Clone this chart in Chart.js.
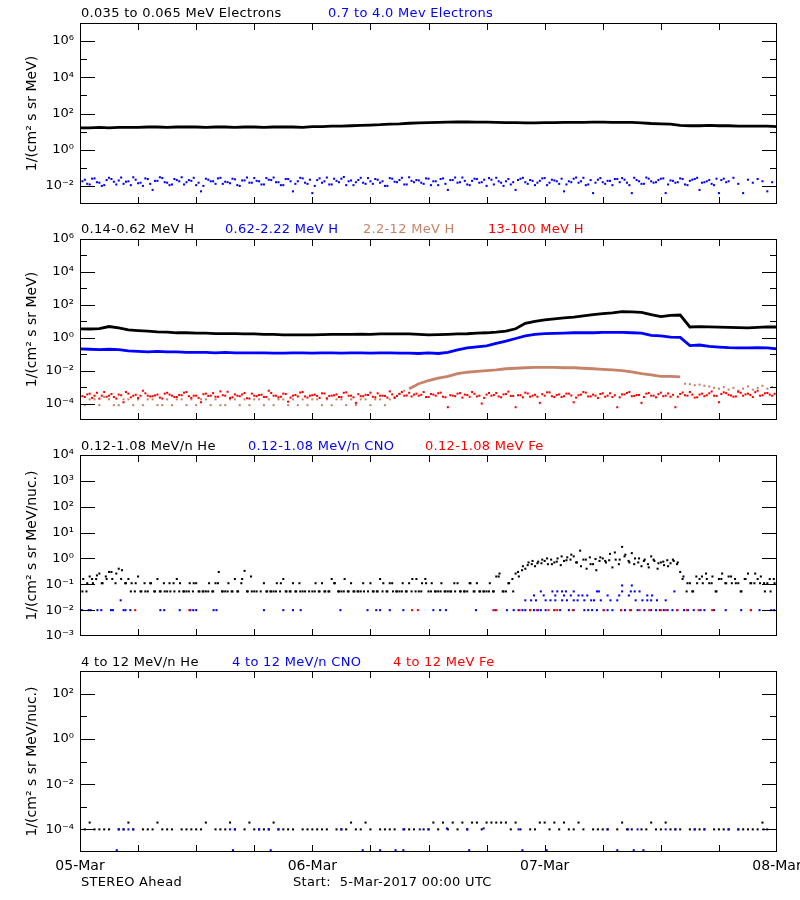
<!DOCTYPE html>
<html><head><meta charset="utf-8">
<script src="https://cdn.jsdelivr.net/npm/chart.js@4.4.1/dist/chart.umd.min.js"></script>
<style>
html,body{margin:0;padding:0;background:#fff;width:800px;height:900px;overflow:hidden;position:relative;font-family:"DejaVu Sans",sans-serif;}
.t{position:absolute;font-size:13px;line-height:13px;white-space:pre;letter-spacing:0.3px;}
canvas{position:absolute;left:0;}
</style></head><body>
<script>
// ---------- axis / label data ----------
const days = ['05-Mar','06-Mar','07-Mar','08-Mar'];
const dayHours = [0,24,48,72];
const xTickHours = [6,12,18,24,30,36,42,48,54,60,66];
const p1Labels = [-2,0,2,4,6];
const p2Labels = [-4,-2,0,2,4,6];
const p3Labels = [-3,-2,-1,0,1,2,3,4];
const p4Labels = [-4,-2,0,2];
const names1 = ['0.035 to 0.065 MeV Electrons','0.7 to 4.0 Mev Electrons'];
const names2 = ['0.14-0.62 MeV H','0.62-2.22 MeV H','2.2-12 MeV H','13-100 MeV H'];
const names3 = ['0.12-1.08 MeV/n He','0.12-1.08 MeV/n CNO','0.12-1.08 MeV Fe'];
const names4 = ['4 to 12 MeV/n He','4 to 12 MeV/n CNO','4 to 12 MeV Fe'];
const footer = ['STEREO Ahead','Start:  5-Mar-2017 00:00 UTC'];

// ---------- panel 1: electrons ----------
// hourly, h0..h72
const eLow = [16,16,17,16,17,17,17,18,18,17, 18,18,18,17,18,18,17,18,18,17,
 18,18,18,17,19,19,20,20,21,22, 23,24,26,27,29,30,31,32,33,34,
 34,33,33,32,31,31,30,30,31,31, 32,32,32,33,33,32,32,32,30,28,
 27,26,22,21,21,22,21,21,20,20, 20,20,19];
// every 30 min on the hour/half hour, h0..h72
const eHi = [.016,.022,.012,.026,.015,.011,.028,.017,.02,.013, .018,.03,.014,.01,.024,.006,.019,.027,.015,.012,
 .021,.03,.016,.019,.011,.005,.025,.018,.013,.028, .017,.014,.023,.01,.02,.015,.027,.018,.012,.022,
 .029,.016,.011,.024,.005,.018,.026,.013,.004,.021, .015,.029,.012,.019,.025,.011,.02,.016,.028,.013,
 .018,.024,.015,.01,.027,.017,.021,.012,.03,.016, .02,.013,.025,.018,.011,.026,.006,.021,.015,.029,
 .012,.019,.024,.016,.01,.022,.028,.015,.018,.012, .006,.025,.016,.021,.011,.019,.027,.015,.02,.013,
 .005,.018,.025,.015,.028,.012,.004,.022,.016,.019, .011,.024,.027,.015,.004,.021,.013,.029,.018,.016,
 .025,.004,.02,.015,.026,.012,.019,.024,.006,.016, .021,.011,.004,.025,.018,.028,.013,.004,.022,.015,
 .024,.018,.005,.016,.021];
// in-between samples, h0.25..h71.75
const eHi2 = [.018,.013,.025,.016,.01,.021,.024,.012,.029,.017, .011,.022,.015,.026,.013,.019,.03,.016,.011,.024,
 .018,.012,.021,.028,.015,.01,.022,.018,.026,.013, .016,.025,.011,.02,.029,.015,.019,.012,.027,.021,
 .016,.011,.024,.018,.013,.028,.015,.022,.01,.026, .018,.012,.025,.016,.031,.018,.011,.021,.015,.027,
 .013,.022,.018,.01,.025,.016,.028,.012,.019,.021, .015,.026,.011,.018,.024,.013,.021,.029,.016,.019,
 .011,.025,.015,.022,.027,.012,.018,.01,.024,.016, .021,.028,.013,.019,.015,.026,.011,.022,.018,.025,
 .012,.016,.029,.018,.011,.021,.015,.027,.013,.019, .024,.016,.022,.011,.028,.018,.013,.025,.015,.021,
 .026,.012,.019,.016,.024,.011,.022,.028,.015,.018, .013,.025,.021,.016];

// ---------- panel 2: protons ----------
const hA = [3.5,3.4,3.6,4.8,4.0,3.0,2.7,2.5,2.3,2.2, 2.0,2.0,1.9,1.9,1.8,1.8,1.8,1.7,1.7,1.6,
 1.6,1.5,1.5,1.5,1.5,1.55,1.6,1.6,1.6,1.65, 1.6,1.7,1.7,1.7,1.7,1.6,
 1.5,1.55,1.6,1.7,1.75,1.9,2.0,2.2,2.5,3.5, 7.5,10,12,14,16,18,21,25,29,32,
 38,37,35,25,19,23,24,4.5,4.7,4.6, 4.4,4.2,4.1,4.0,4.3,4.6,4.5];
const hB = [0.21,0.2,0.19,0.2,0.19,0.16,0.15,0.14,0.15,0.14, 0.14,0.13,0.13,0.13,0.12,0.13,0.12,0.12,0.12,0.12,
 0.115,0.115,0.12,0.12,0.115,0.12,0.12,0.115,0.12,0.12, 0.115,0.12,0.12,0.115,0.115,0.11,
 0.12,0.11,0.13,0.18,0.24,0.28,0.32,0.45,0.62,0.9, 1.3,1.6,1.8,1.85,1.9,2.0,2.0,2.0,2.1,2.1,
 2.1,2.0,1.9,1.4,1.3,1.1,1.05,0.33,0.36,0.3, 0.27,0.25,0.24,0.24,0.25,0.24,0.21];
// 2.2-12 MeV H: quiet (30 min, h0..33.5), event (hourly, h34..62), decay (30 min, h62.5..72)
const hCquiet = [1.8e-4,8e-5,1.8e-4,1.8e-4,8e-5,2.5e-4,1.8e-4,8e-5,8e-5,1.8e-4,
 1.8e-4,8e-5,1.8e-4,8e-5,1.8e-4,1.8e-4,8e-5,8e-5,1.8e-4,8e-5,
 1.8e-4,1.8e-4,8e-5,1.8e-4,8e-5,1.8e-4,1.8e-4,8e-5,1.8e-4,8e-5,
 8e-5,1.8e-4,1.8e-4,8e-5,1.8e-4,8e-5,1.8e-4,1.8e-4,8e-5,1.8e-4,
 8e-5,1.8e-4,1.8e-4,8e-5,1.8e-4,8e-5,1.8e-4,8e-5,1.8e-4,1.8e-4,
 8e-5,1.8e-4,8e-5,1.8e-4,1.8e-4,8e-5,1.8e-4,8e-5,1.8e-4,1.8e-4,
 8e-5,1.8e-4,1.8e-4,8e-5,1.8e-4,2.5e-4,4e-4,6e-4];
const hCevent = [8e-4,1.6e-3,2.5e-3,3.5e-3,4.5e-3,6.5e-3,8e-3,9e-3,.01,.011,
 .013,.014,.015,.016,.016,.016,.015,.015,.014,.013, .012,.011,.01,.0085,.0065,.0055,.0045,.0045,.0042];
const hCdecay = [1.6e-3,1.5e-3,1.3e-3,1.4e-3,1.2e-3,1.1e-3,9e-4,8e-4,1e-3,7e-4,
 9e-4,6e-4,8e-4,1.1e-3,7e-4,9e-4,1.2e-3,8e-4,1e-3,9e-4];
// 13-100 MeV H, 30 min (h0..72) and in-between samples (h0.25..71.75)
const hD = [3e-4,2.5e-4,4e-4,3e-4,2e-4,5e-4,3e-4,2.5e-4,3.5e-4,1.2e-4,
 4e-4,3e-4,2.2e-4,6e-4,3e-4,2.8e-4,3.5e-4,2e-4,4.5e-4,3e-4,
 2.5e-4,3.2e-4,5e-4,2.2e-4,3e-4,1.2e-4,4e-4,3e-4,2.6e-4,5.5e-4,
 3e-4,2.2e-4,3.6e-4,2.8e-4,4.4e-4,2e-4,3e-4,3.3e-4,2.5e-4,6e-4,
 3e-4,2.4e-4,4e-4,1.3e-4,3e-4,2.7e-4,5e-4,2.3e-4,3.2e-4,2.9e-4,
 4.2e-4,2.1e-4,3e-4,3.6e-4,2.5e-4,4.8e-4,3e-4,1.1e-4,2.8e-4,3.4e-4,
 4.6e-4,2.4e-4,3e-4,2.9e-4,5.5e-4,2.2e-4,3.8e-4,3e-4,4.5e-4,3.5e-4,
 3e-4,5e-4,2.5e-4,3.5e-4,4.2e-4,2.6e-4,6e-5,3e-4,4e-4,2.3e-4,
 3.3e-4,5e-4,2.7e-4,1e-4,3.5e-4,3e-4,4.4e-4,2.4e-4,3.8e-4,2.9e-4,
 6e-5,3.2e-4,4.6e-4,2.6e-4,3.4e-4,1.1e-4,3e-4,4.8e-4,2.5e-4,3.6e-4,
 2.8e-4,4e-4,1.2e-4,3.2e-4,5e-4,2.7e-4,3.5e-4,2.2e-4,4.2e-4,3e-4,
 2.5e-4,6e-5,3.6e-4,4.4e-4,2.8e-4,3.3e-4,1.1e-4,4e-4,3e-4,2.4e-4,
 4.6e-4,3e-4,2.6e-4,6e-5,3.8e-4,3.2e-4,5e-4,2.3e-4,3.5e-4,2.8e-4,
 4.2e-4,3e-4,1.2e-4,4.8e-4,3.4e-4,2.6e-4,5.2e-4,3e-4,4e-4,2.5e-4,
 6e-4,3.2e-4,4.4e-4,3e-4,5e-4];
const hD2 = [2.8e-4,3.6e-4,2.2e-4,4.5e-4,3e-4,2.6e-4,3.8e-4,2e-4,3.2e-4,5e-4,
 2.4e-4,3.4e-4,3e-4,4.2e-4,2.7e-4,3.1e-4,2.3e-4,4e-4,3.5e-4,2.5e-4,
 3.3e-4,4.6e-4,2.8e-4,3e-4,2.2e-4,3.7e-4,2.9e-4,4.3e-4,2.6e-4,3.2e-4,
 5.2e-4,2.4e-4,3e-4,3.6e-4,2.1e-4,4e-4,2.8e-4,3.4e-4,2.5e-4,4.4e-4,
 3e-4,2.6e-4,3.8e-4,2.3e-4,3.3e-4,4.7e-4,2.7e-4,3e-4,3.5e-4,2.2e-4,
 4.1e-4,2.9e-4,3.2e-4,2.5e-4,4.5e-4,3e-4,2.4e-4,3.7e-4,2.8e-4,3.3e-4,
 2.6e-4,4.2e-4,3e-4,2.3e-4,3.6e-4,2.9e-4,5e-4,3.1e-4,2.7e-4,4e-4,
 3.4e-4,2.5e-4,3.8e-4,3e-4,4.6e-4,2.4e-4,3.2e-4,2.8e-4,4.3e-4,3.5e-4,
 2.6e-4,3.9e-4,3e-4,2.2e-4,4.4e-4,3.3e-4,2.7e-4,3.6e-4,5.3e-4,2.9e-4,
 3.2e-4,2.4e-4,4.1e-4,3e-4,2.6e-4,3.7e-4,4.8e-4,2.8e-4,3.3e-4,2.5e-4,
 4e-4,3.1e-4,2.3e-4,3.5e-4,4.6e-4,2.7e-4,3e-4,3.8e-4,2.6e-4,4.2e-4,
 3.2e-4,2.4e-4,3.6e-4,5e-4,2.9e-4,3.3e-4,2.5e-4,4.4e-4,3e-4,3.7e-4,
 2.8e-4,4.1e-4,3.4e-4,2.6e-4,4.7e-4,3e-4,3.5e-4,2.4e-4,4e-4,3.2e-4,
 5.4e-4,2.9e-4,3.8e-4,4.3e-4,3.1e-4,2.7e-4,4.5e-4,3.6e-4,3.3e-4,4.9e-4,
 3e-4,4.2e-4,3.5e-4,3.9e-4];

// ---------- panel 3: 0.12-1.08 MeV/n ions ----------
// He every 20 min (3 per hour), h0..h72
const he3 = [.11,.16,.053, .2,.11,.16, .26,.11,.2, .3,.16,.11, .4,.35,.11, .16,.11,.053, .2,.053,.11, .053,.11,.053,
 .16,.053,.11, .053,.053,.11, .16,.11,.053, .053,.11,.053, .11,.053,.053, .053,.11,.053, .11,.3,.053, .053,.11,.053,
 .16,.053,.11, .33,.053,.2, .053,null,.053, .11,.053,.053, .053,.11,.053, .16,.053,.053, .11,.053,.11, .053,null,.053,
 .053,.11,.053, .11,.053,.053, .16,.11,.053, .053,.16,.053, .11,.053,.053, .053,.053,null, .11,.053,.053, .16,.11,.053,
 .11,.053,.053, .053,.11,.053, .11,.16,.053, .053,.11,.16, .053,.11,.053, .053,.11,.053, .053,.053,.11, .11,.053,.053,
 .053,.11,.053, .11,.053,.053, .053,.11,.053, .2,.26,.053, .053,.11,.16, .26,.2,.35, .4,.7,.6, .5,.75,.65,
 .8,.6,.9, .7,1.0,.55, .8,1.1,.9, 1.2,.7,2.0, .9,.4,1.1, .6,.35,.8, 1.0,.7,.85, .45,.9,.6,
 2.8,1.4,.8, 1.6,1.0,.7, .5,.9,.6, 1.2,.8,.4, .7,.55,.85, .65,.8,.6, .3,.2,.053, .11,.053,.2,
 .16,.11,.26, .11,.2,.053, .16,.26,.11, .2,.11,.16, .11,.053,.16, .26,.11,.11, .16,.2,.11, .11,.053,.16,
 .11];
// He in-between samples, h0.25..h71.75 every 30 min
const he3b = [.053,.11,.16,.22,.11,.16,.3,.26,.16,.11,.053,.11,
 .053,.053,.11,.053,.053,.053,.11,.053,.053,.053,.053,.11,.053,.053,.053,.053,.11,.053,
 .053,.053,.053,.16,.053,.053,.053,null,.053,.053,.053,.11,.053,.053,.053,.053,.053,null,.053,.053,
 .053,.053,.11,.053,.053,.053,.053,.053,.11,.053,.053,.053,.053,.053,.11,.053,.053,.053,.053,.16,
 .053,.11,.053,.053,.053,.053,.053,.053,.053,.053,.11,.053,.053,.053,.053,.053,.2,.053,.11,.053,
 .3,.5,.55,.8,.65,.9,1.0,.6,.75,1.2, .85,1.4,.7,.5,.9,.6,.95,1.1,.8,1.5, 1.7,.9,1.2,.7,.6,1.0,.8,.45,.9,.65, .75,.5,.9,.7,
 .16,.11,.053,.11,.2,.16,.11,.053,.16,.11, .2,.11,.053,.16,.11,.26,.11,.053,.16,.11];
// CNO [hour, value]
const cno3 = [[0.2,.01],[0.9,.01],[1.1,.01],[1.8,.01],[2.2,.01],[3.2,.01],[3.4,.01],[4.2,.024],[4.5,.01],[4.7,.01],[5.2,.01],
 [8.3,.01],[8.7,.01],[10.3,.01],[11.4,.01],[11.7,.01],[12,.01],[13.8,.01],[14.1,.01],[19,.01],[21,.01],[22,.01],[22.8,.01],
 [26.9,.01],[29.7,.01],[30.6,.01],[31,.01],[32,.01],[33.4,.01],[36.5,.01],[37.2,.01],[37.8,.01],[40.9,.01],[42.9,.01],
 [44.1,.01],[44.8,.01],[45.3,.01],[45.7,.01],[46,.01],[46.5,.01],[46.9,.01],[47.3,.01],[47.6,.01],[48.1,.01],[49,.01],
 [49.6,.01],[50.5,.01],[51,.01],[52.1,.01],[52.5,.01],[52.9,.01],[53.4,.01],[54.1,.01],[54.5,.01],[55,.01],[55.9,.01],
 [56.3,.01],[56.9,.01],[57.6,.01],[58.3,.01],[59,.01],[59.5,.01],[59.9,.01],[60.3,.01],[60.7,.01],[61.2,.01],[61.7,.01],
 [62.4,.01],[62.8,.01],[63.4,.01],[64.1,.01],[64.5,.01],[65.5,.01],[66.7,.01],[68.3,.01],[69.3,.01],[70.2,.01],[71.4,.01],[71.7,.01],
 [46,.024],[46.6,.024],[47.1,.024],[48.1,.024],[48.6,.024],[49.1,.024],[49.8,.024],[50.3,.024],[51,.024],[51.4,.024],
 [52.1,.024],[52.8,.024],[53.1,.024],[53.8,.024],[54.8,.024],[55.5,.024],[57.4,.024],[58.1,.024],[58.6,.024],[59,.024],[59.6,.024],[60.5,.024],
 [46.9,.037],[47.9,.037],[49.1,.037],[50,.037],[50.7,.037],[51.5,.037],[51.9,.037],[52.4,.037],[54.5,.037],[55.7,.037],[56.7,.037],[58.6,.037],[59.1,.037],
 [47.6,.053],[48.8,.053],[49.3,.053],[49.8,.053],[50.2,.053],[51,.053],[53.4,.053],[53.6,.053],[56,.053],[56.9,.053],[57.3,.053],[57.8,.053],[61.4,.053],
 [56,.09],[57,.09]];
// Fe [hour, value]
const fe3 = [[5.7,.01],[11.3,.01],[34.3,.01],[34.9,.01],[42.7,.01],[43,.01],[45.4,.01],[46.5,.01],[47.2,.01],[48.4,.01],
 [49,.01],[49.3,.01],[50.9,.01],[54.1,.01],[55.9,.01],[56.8,.01],[57.8,.01],[58.8,.01],[60,.01],[60.5,.01],[61.7,.01],
 [62.7,.01],[63.9,.01],[65.3,.01],[69.3,.01]];

// ---------- panel 4: 4-12 MeV/n ions ----------
// He every 30 min
const he4 = [null,1e-4,2e-4,1e-4,1e-4,1e-4,1e-4,null,1e-4,1e-4,
 2e-4,1e-4,null,1e-4,1e-4,1e-4,2e-4,1e-4,1e-4,1e-4,
 null,1e-4,1e-4,1e-4,1e-4,1e-4,2e-4,null,1e-4,1e-4,
 1e-4,2e-4,1e-4,null,1e-4,2e-4,1e-4,1e-4,1e-4,1e-4,
 2e-4,1e-4,1e-4,1e-4,1e-4,null,1e-4,1e-4,1e-4,1e-4,
 1e-4,1e-4,null,1e-4,1e-4,1e-4,2e-4,1e-4,1e-4,2e-4,
 1e-4,null,1e-4,1e-4,1e-4,1e-4,null,1e-4,1e-4,1e-4,
 null,1e-4,1e-4,2e-4,1e-4,2e-4,1e-4,2e-4,1e-4,2e-4,
 1e-4,2e-4,2e-4,1e-4,2e-4,2e-4,2e-4,2e-4,2e-4,1e-4,
 2e-4,1e-4,null,1e-4,1e-4,2e-4,2e-4,1e-4,2e-4,1e-4,
 2e-4,1e-4,1e-4,2e-4,1e-4,null,1e-4,1e-4,1e-4,1e-4,
 null,1e-4,2e-4,1e-4,1e-4,null,1e-4,1e-4,2e-4,1e-4,
 1e-4,2e-4,1e-4,1e-4,1e-4,null,1e-4,1e-4,1e-4,1e-4,
 null,1e-4,1e-4,1e-4,1e-4,null,1e-4,1e-4,1e-4,1e-4,
 1e-4,2e-4,1e-4,null,1e-4];
const cno4 = [[4,1e-4],[4.5,1e-4],[5,1e-4],[5.5,1e-4],[15.5,1e-4],[16,1e-4],[18.5,1e-4],[19.5,1e-4],[20.5,1e-4],[27,1e-4],
 [33.4,1e-4],[35.1,1e-4],[36,1e-4],[37.9,1.1e-4],[40,1e-4],[41.7,1.1e-4],[45.3,1e-4],[54.5,1e-4],[56.6,1e-4],[57.6,1e-4],
 [60.5,1e-4],[61.5,1e-4],[63.5,1e-4],[64.5,1e-4],[67,1e-4],[68,1e-4],[70.6,1e-4],
 [3.8,1.2e-5],[15.8,1.2e-5],[19.7,1.2e-5],[29.2,1.2e-5],[31,1.2e-5],[32.6,1.2e-5],[33.4,1.2e-5],[40.2,1.2e-5],
 [45.7,1.2e-5],[48.2,1.2e-5],[55.5,1.2e-5],[57.2,1.2e-5],[58.2,1.2e-5]];
const fe4 = [];

// ---------- helpers ----------
const BLACK='#000000', BLUE='#0000ff', BROWN='#c8826a', RED='#ff0000';
function series(vals, t0, step){ const out=[]; vals.forEach((v,i)=>{ if(v!=null) out.push({x:t0+i*step, y:v}); }); return out; }
function pts(list){ return list.map(p=>({x:p[0], y:p[1]})); }
function dots(data,color){ return {data, showLine:false, pointStyle:'rect', pointRadius:1.45, pointHoverRadius:0, pointBorderWidth:0, backgroundColor:color, borderColor:color}; }
function line(data,color){ return {data, showLine:true, borderWidth:2.8, borderColor:color, backgroundColor:color, pointRadius:0, pointHoverRadius:0, tension:0}; }
const SUP={'-':'\u207B','0':'\u2070','1':'\u00B9','2':'\u00B2','3':'\u00B3','4':'\u2074','5':'\u2075','6':'\u2076','7':'\u2077','8':'\u2078','9':'\u2079'};
function sup(n){ return String(n).split('').map(c=>SUP[c]).join(''); }

const framePlugin = {
  id:'frame',
  afterDatasetsDraw(chart, args, opts){
    const {ctx, chartArea:a} = chart; const x=chart.scales.x, y=chart.scales.y;
    ctx.save(); ctx.strokeStyle='#000'; ctx.lineWidth=1;
    ctx.strokeRect(a.left+0.5, a.top+0.5, a.right-a.left-1, a.bottom-a.top-1);
    ctx.beginPath();
    for(let e=opts.lo; e<=opts.hi; e++){
      const py=Math.round(y.getPixelForValue(Math.pow(10,e)))+0.5;
      if(py<a.top+2||py>a.bottom-2) continue;
      const L=opts.major.includes(e)?15:7;
      ctx.moveTo(a.left,py); ctx.lineTo(a.left+L,py);
      ctx.moveTo(a.right,py); ctx.lineTo(a.right-L,py);
    }
    for(const h of xTickHours){
      const px=Math.round(x.getPixelForValue(h))+0.5;
      ctx.moveTo(px,a.bottom); ctx.lineTo(px,a.bottom-7);
      ctx.moveTo(px,a.top); ctx.lineTo(px,a.top+7);
    }
    ctx.stroke(); ctx.restore();
  }
};

function makePanel(p){
  const cv=document.createElement('canvas');
  const padTop=15, padBot=p.xaxis?0:15, axH=28;
  const h=padTop+(p.bottom-p.top)+(p.xaxis?axH:padBot);
  cv.width=800; cv.height=h; cv.style.top=(p.top-padTop)+'px'; cv.style.width='800px'; cv.style.height=h+'px';
  document.body.appendChild(cv);
  p.datasets.forEach((d,k)=>{ d.order=-k; });
  new Chart(cv.getContext('2d'),{
    type:'scatter',
    data:{datasets:p.datasets},
    options:{
      responsive:false, animation:false, events:[], devicePixelRatio:1,
      layout:{padding:{left:0,right:23,top:padTop,bottom:padBot}},
      plugins:{legend:{display:false}, tooltip:{enabled:false}, frame:{lo:p.lo,hi:p.hi,major:p.major}},
      scales:{
        x:{type:'linear', min:0, max:72, display:p.xaxis, grid:{display:false,drawTicks:false}, border:{display:false},
           afterBuildTicks:s=>{ s.ticks=dayHours.map(v=>({value:v})); },
           afterFit:s=>{ s.height=p.xaxis?axH:0; s.paddingLeft=0; s.paddingRight=0; },
           ticks:{autoSkip:false, maxRotation:0, minRotation:0, padding:6, color:'#000', font:{family:'DejaVu Sans',size:14},
                  callback:v=>days[dayHours.indexOf(v)]}},
        y:{type:'logarithmic', min:Math.pow(10,p.lo-1), max:Math.pow(10,p.hi+1), position:'left',
           grid:{display:false,drawTicks:false}, border:{display:false},
           afterBuildTicks:s=>{ s.ticks=p.labels.map(e=>({value:Math.pow(10,e)})); },
           afterFit:s=>{ s.width=80; s.paddingTop=0; s.paddingBottom=0; },
           ticks:{autoSkip:false, padding:6, color:'#000', font:{family:'DejaVu Sans',size:13},
                  callback:v=>'10'+sup(Math.round(Math.log10(v)))},
           title:{display:true, text:p.title, color:'#000', font:{family:'DejaVu Sans',size:14}, padding:{top:24,bottom:0}}}
      }
    },
    plugins:[framePlugin]
  });
}

makePanel({top:23,bottom:204,lo:-2,hi:6,major:p1Labels,labels:p1Labels,title:'1/(cm\u00B2 s sr MeV)',xaxis:false,
  datasets:[line(series(eLow,0,1),BLACK), dots(series(eHi,0,0.5).concat(series(eHi2,0.25,0.5)),BLUE)]});
makePanel({top:239,bottom:420,lo:-4,hi:5,major:p2Labels,labels:p2Labels,title:'1/(cm\u00B2 s sr MeV)',xaxis:false,
  datasets:[line(series(hA,0,1),BLACK), line(series(hB,0,1),BLUE),
            dots(series(hCquiet,0,0.5),BROWN), line(series(hCevent,34,1),BROWN), dots(series(hCdecay,62.5,0.5),BROWN),
            dots(series(hD,0,0.5).concat(series(hD2,0.25,0.5)),RED)]});
makePanel({top:455,bottom:636,lo:-2,hi:3,major:p3Labels,labels:p3Labels,title:'1/(cm\u00B2 s sr MeV/nuc.)',xaxis:false,
  datasets:[dots(series(he3,0,1/3).concat(series(he3b,0.25,0.5)),BLACK), dots(pts(cno3),BLUE), dots(pts(fe3),RED)]});
makePanel({top:671,bottom:852,lo:-4,hi:2,major:p4Labels,labels:p4Labels,title:'1/(cm\u00B2 s sr MeV/nuc.)',xaxis:true,
  datasets:[dots(series(he4,0,0.5),BLACK), dots(pts(cno4),BLUE), dots(pts(fe4),RED)]});

// ---------- titles (real text) ----------
const titleRows = [
  {top:6, names:names1, lefts:[81,328], colors:[BLACK,BLUE]},
  {top:222, names:names2, lefts:[81,225,363,488], colors:[BLACK,BLUE,BROWN,RED]},
  {top:439, names:names3, lefts:[81,248,425], colors:[BLACK,BLUE,RED]},
  {top:655, names:names4, lefts:[81,232,393], colors:[BLACK,BLUE,RED]},
  {top:875, names:footer, lefts:[81,293], colors:[BLACK,BLACK]}
];
titleRows.forEach(r=>r.names.forEach((n,i)=>{
  const d=document.createElement('div'); d.className='t'; d.textContent=n;
  d.style.left=r.lefts[i]+'px'; d.style.top=r.top+'px'; d.style.color=r.colors[i];
  document.body.appendChild(d);
}));
</script>
</body></html>
